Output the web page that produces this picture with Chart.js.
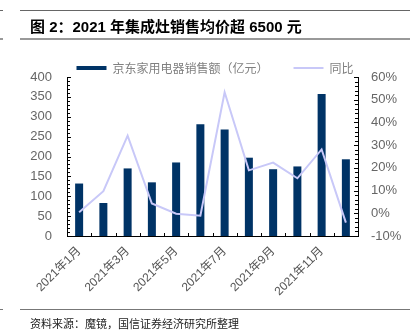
<!DOCTYPE html>
<html>
<head>
<meta charset="utf-8">
<script src="https://cdn.jsdelivr.net/npm/chart.js@4/dist/chart.umd.min.js"></script>
<style>
  body { margin: 0; background: #fff; }
  #wrap { position: relative; width: 410px; height: 334px; overflow: hidden; font-family: "Liberation Sans", "Noto Sans CJK SC", sans-serif; }
  #myChart { position: absolute; left: 0; top: 0; }
  .rule { position: absolute; height: 0; }
  #title { position: absolute; left: 30px; top: 15px; font-size: 15px; font-weight: bold; color: #000; white-space: nowrap; }
  #source { position: absolute; left: 30px; top: 315px; font-size: 11px; color: #222; white-space: nowrap; font-family: "Noto Sans CJK SC", sans-serif; }
</style>
</head>
<body>
<div id="wrap">
  <canvas id="myChart" width="410" height="334"></canvas>
  <div class="rule" style="left:20px;width:390px;top:10px;border-top:1px solid #666;"></div>
  <div class="rule" style="left:0;width:3px;top:10px;border-top:1px solid #666;"></div>
  <div id="title">图 2：2021 年集成灶销售均价超 6500 元</div>
  <div class="rule" style="left:20px;width:390px;top:38px;border-top:2px solid #999;"></div>
  <div class="rule" style="left:0;width:3px;top:38px;border-top:2px solid #999;"></div>
  <div class="rule" style="left:20px;width:390px;top:309px;border-top:1px solid #777;"></div>
  <div class="rule" style="left:0;width:3px;top:309px;border-top:1px solid #777;"></div>
  <div id="source">资料来源：魔镜，国信证券经济研究所整理</div>
</div>
<script>
// data
let months = ["2021年1月", "2021年2月", "2021年3月", "2021年4月", "2021年5月", "2021年6月",
  "2021年7月", "2021年8月", "2021年9月", "2021年10月", "2021年11月", "2021年12月"];
let sales = [132, 83, 170, 135, 185, 281, 268, 197, 168, 175, 357, 193];
let yoy = [0.5, 9.7, 34.2, 4.3, -0.2, -1.1, 53.3, 18.9, 22.3, 15.4, 28.1, -4.1];
let leftTicks = [0, 50, 100, 150, 200, 250, 300, 350, 400];
let rightTicks = [-10, 0, 10, 20, 30, 40, 50, 60];

let barColor = "#003366";
let lineColor = "#c8c8f8";

// small inside tick marks like the original
let innerTicks = {
  id: "innerTicks",
  afterDraw(chart) {
    let ctx = chart.ctx;
    let y = chart.scales.y, y1 = chart.scales.y1, x = chart.scales.x;
    let area = chart.chartArea;
    ctx.save();
    ctx.strokeStyle = "#000";
    ctx.lineWidth = 1;
    ctx.beginPath();
    for (let v = 0; v <= 400; v += 10) {
      let py = Math.round(y.getPixelForValue(v)) + 0.5;
      let len = v % 50 == 0 ? 4 : 3;
      ctx.moveTo(area.left, py);
      ctx.lineTo(area.left + len, py);
    }
    for (let v = -10; v <= 60; v += 2) {
      let py = Math.round(y1.getPixelForValue(v)) + 0.5;
      let len = v % 10 == 0 ? 4 : 3;
      ctx.moveTo(area.right, py);
      ctx.lineTo(area.right - len, py);
    }
    for (let i = 1; i < months.length; i++) {
      let px = Math.round((x.getPixelForValue(i - 1) + x.getPixelForValue(i)) / 2) + 0.5;
      ctx.moveTo(px, area.bottom);
      ctx.lineTo(px, area.bottom - 3);
    }
    ctx.stroke();
    ctx.restore();
  }
};

let ctx = document.getElementById("myChart").getContext("2d");
let chart = new Chart(ctx, {
  type: "bar",
  data: {
    labels: months,
    datasets: [
      {
        type: "bar",
        label: "京东家用电器销售额（亿元）",
        data: sales,
        backgroundColor: barColor,
        borderWidth: 0,
        barPercentage: 0.33,
        categoryPercentage: 1,
        yAxisID: "y",
        order: 1
      },
      {
        type: "line",
        label: "同比",
        data: yoy,
        borderColor: lineColor,
        backgroundColor: lineColor,
        borderWidth: 2,
        pointRadius: 0,
        tension: 0,
        yAxisID: "y1",
        order: 0
      }
    ]
  },
  options: {
    responsive: false,
    animation: false,
    layout: { padding: { left: 20, right: 0, top: 37, bottom: 0 } },
    plugins: {
      tooltip: { enabled: false },
      legend: {
        display: true,
        maxHeight: 40,
        labels: {
          usePointStyle: true,
          pointStyleWidth: 30,
          boxHeight: 4,
          padding: 25,
          color: "#808080",
          font: { family: "Noto Sans CJK SC", size: 12 },
          sort: function(a, b) { return a.datasetIndex - b.datasetIndex; },
          generateLabels(chart) {
            let items = Chart.defaults.plugins.legend.labels.generateLabels(chart);
            items.forEach(function(it) {
              let isBar = it.datasetIndex == 0;
              it.pointStyle = isBar ? "rect" : "line";
              it.lineWidth = isBar ? 0 : 2;
              it.strokeStyle = isBar ? barColor : lineColor;
            });
            return items;
          }
        }
      }
    },
    scales: {
      x: {
        grid: { display: false, drawTicks: false },
        border: { display: true, color: "#000", width: 1 },
        ticks: {
          autoSkip: false,
          maxRotation: 45,
          minRotation: 45,
          padding: 8,
          color: "#555",
          font: { family: "Liberation Sans, Noto Sans CJK SC", size: 12 },
          callback: function(value, index) {
            return index % 2 == 0 ? months[index] : "";
          }
        },
        afterFit: function(scale) { scale.height = 98; }
      },
      y: {
        position: "left",
        min: 0,
        max: 400,
        afterBuildTicks: function(scale) { scale.ticks = leftTicks.map(v => ({ value: v })); },
        grid: { display: false, drawTicks: false },
        border: { display: true, color: "#000", width: 1 },
        ticks: { padding: 15, color: "#666", font: { family: "Liberation Sans", size: 13 } },
        afterFit: function(scale) { scale.width = 47; }
      },
      y1: {
        position: "right",
        min: -10,
        max: 60,
        afterBuildTicks: function(scale) { scale.ticks = rightTicks.map(v => ({ value: v })); },
        grid: { display: false, drawTicks: false },
        border: { display: true, color: "#000", width: 1 },
        ticks: {
          padding: 13,
          color: "#666",
          font: { family: "Liberation Sans", size: 13 },
          callback: function(v) { return v + "%"; }
        },
        afterFit: function(scale) { scale.width = 52; }
      }
    }
  },
  plugins: [innerTicks]
});
</script>
</body>
</html>
